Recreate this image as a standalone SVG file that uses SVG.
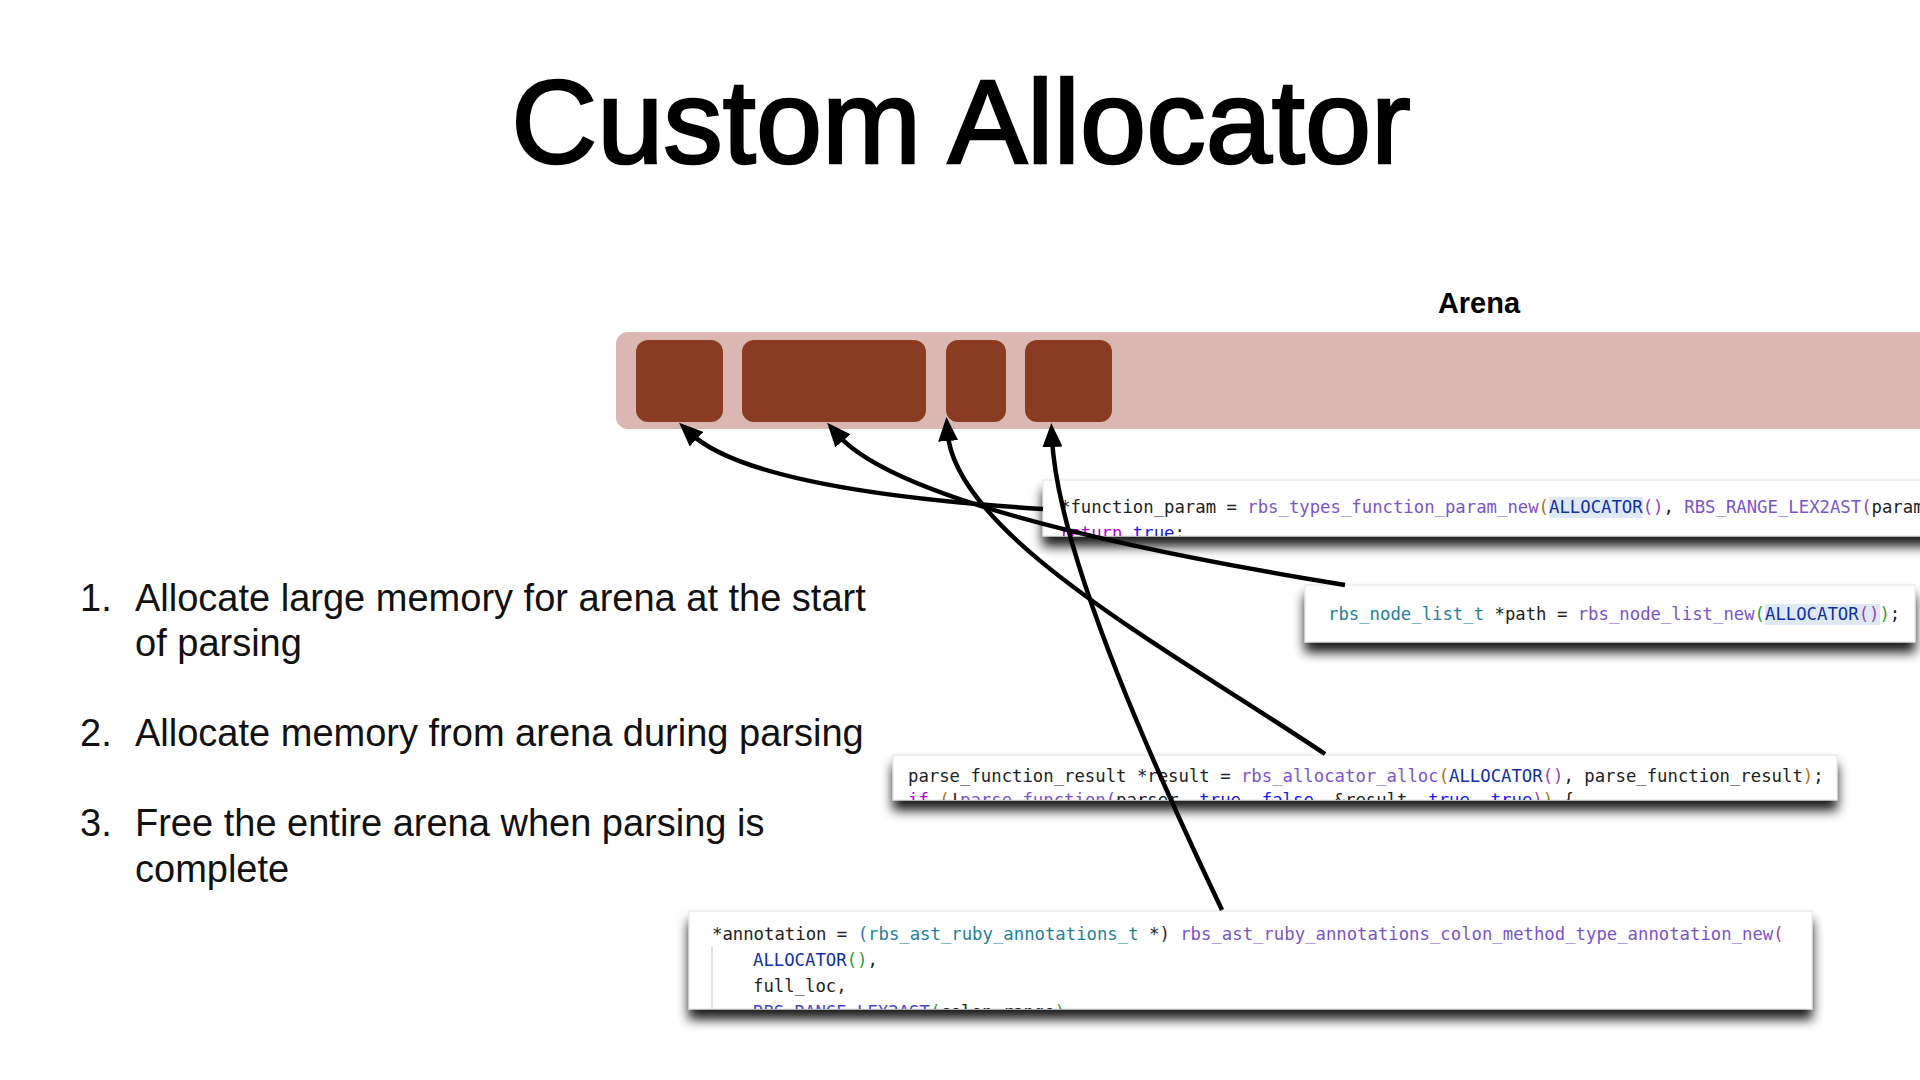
<svg xmlns="http://www.w3.org/2000/svg" width="1920" height="1080" viewBox="0 0 1920 1080">
<style>
.title{font-family:"Liberation Sans",Arial,sans-serif;font-size:119px;fill:#000;stroke:#000;stroke-width:2.6px}
.lbl{font-family:"Liberation Sans",Arial,sans-serif;font-size:29px;font-weight:bold;fill:#000}
.body{font-family:"Liberation Sans",Arial,sans-serif;font-size:38px;fill:#111}
.code{font-family:"DejaVu Sans Mono","Liberation Mono",monospace;font-size:17.3px;fill:#222}
.box{fill:#fff;stroke:#e2e2e2;stroke-width:1}
.fn{fill:#7a55c8}
.ty{fill:#267f99}
.al{fill:#0f2fa8}
.kw{fill:#b000d6}
.bl{fill:#1a1af0}
.b1{fill:#a8721a}
.b2{fill:#9a3fb0}
.b3{fill:#2f9a3a}
.hl{fill:#dfe9f6}
.blk{fill:#8a3c23}
.arr{fill:none;stroke:#000;stroke-width:4.5}
</style>
<defs>
<marker id="ah" viewBox="0 0 24 20" refX="9" refY="10" markerWidth="24" markerHeight="20" markerUnits="userSpaceOnUse" orient="auto">
<path d="M0,0 L24,10 L0,20 z" fill="#000"/>
</marker>
<filter id="sh" x="-5%" y="-30%" width="110%" height="190%">
<feGaussianBlur in="SourceAlpha" stdDeviation="6"/>
<feOffset dx="0" dy="10" result="b"/>
<feComponentTransfer><feFuncA type="linear" slope="0.9"/></feComponentTransfer>
<feMerge><feMergeNode/><feMergeNode in="SourceGraphic"/></feMerge>
</filter>
<clipPath id="c1"><rect x="1043" y="480" width="877" height="56"/></clipPath>
<clipPath id="c2"><rect x="1305" y="585" width="610" height="57"/></clipPath>
<clipPath id="c3"><rect x="893" y="755" width="944" height="45"/></clipPath>
<clipPath id="c4"><rect x="689" y="911" width="1123" height="98"/></clipPath>
</defs>

<rect width="1920" height="1080" fill="#fff"/>

<text class="title" x="961" y="163" text-anchor="middle">Custom Allocator</text>

<g id="list">
<text class="body" x="80" y="611">1.</text>
<text class="body" x="135" y="611">Allocate large memory for arena at the start</text>
<text class="body" x="135" y="656">of parsing</text>
<text class="body" x="80" y="746">2.</text>
<text class="body" x="135" y="746">Allocate memory from arena during parsing</text>
<text class="body" x="80" y="836">3.</text>
<text class="body" x="135" y="836">Free the entire arena when parsing is</text>
<text class="body" x="135" y="882">complete</text>
</g>

<g id="arena">
<text class="lbl" x="1479" y="313" text-anchor="middle">Arena</text>
<rect x="616" y="332" width="1320" height="97" rx="12" fill="#dbb7b2"/>
<rect class="blk" x="636" y="340" width="87" height="82" rx="12"/>
<rect class="blk" x="742" y="340" width="184" height="82" rx="12"/>
<rect class="blk" x="946" y="340" width="60" height="82" rx="12"/>
<rect class="blk" x="1025" y="340" width="87" height="82" rx="12"/>
</g>

<g id="code1">
<rect class="box" x="1043" y="480" width="890" height="56" filter="url(#sh)"/>
<g clip-path="url(#c1)">
<rect class="hl" x="1549" y="497" width="94" height="21"/>
<text class="code" x="1060" y="513" xml:space="preserve">*function_param = <tspan class="fn">rbs_types_function_param_new</tspan><tspan class="b1">(</tspan><tspan class="al">ALLOCATOR</tspan><tspan class="b2">()</tspan>, <tspan class="fn">RBS_RANGE_LEX2AST</tspan><tspan class="b2">(</tspan>param</text>
<text class="code" x="1060" y="539"><tspan class="kw">return</tspan> <tspan class="bl">true</tspan>;</text>
</g>
</g>

<g id="code2">
<rect class="box" x="1305" y="585" width="610" height="57" filter="url(#sh)"/>
<g clip-path="url(#c2)">
<rect class="hl" x="1765" y="604" width="115" height="21"/>
<text class="code" x="1328" y="620" xml:space="preserve"><tspan class="ty">rbs_node_list_t</tspan> *path = <tspan class="fn">rbs_node_list_new</tspan><tspan class="b3">(</tspan><tspan class="al">ALLOCATOR</tspan><tspan class="b2">()</tspan><tspan class="b3">)</tspan>;</text>
</g>
</g>

<g id="code3">
<rect class="box" x="893" y="755" width="944" height="45" filter="url(#sh)"/>
<g clip-path="url(#c3)">
<text class="code" x="908" y="782" xml:space="preserve">parse_function_result *result = <tspan class="fn">rbs_allocator_alloc</tspan><tspan class="b1">(</tspan><tspan class="al">ALLOCATOR</tspan><tspan class="b2">()</tspan>, parse_function_result<tspan class="b1">)</tspan>;</text>
<text class="code" x="908" y="806" xml:space="preserve"><tspan class="kw">if</tspan> <tspan class="b1">(</tspan>!<tspan class="fn">parse_function</tspan><tspan class="b2">(</tspan>parser, <tspan class="bl">true</tspan>, <tspan class="bl">false</tspan>, &amp;result, <tspan class="bl">true</tspan>, <tspan class="bl">true</tspan><tspan class="b2">)</tspan><tspan class="b1">)</tspan> {</text>
</g>
</g>

<g id="code4">
<rect class="box" x="689" y="911" width="1123" height="98" filter="url(#sh)"/>
<g clip-path="url(#c4)">
<line x1="712" y1="947" x2="712" y2="1009" stroke="#d4d4d4" stroke-width="1.5"/>
<text class="code" x="712" y="940" xml:space="preserve">*annotation = <tspan fill="#3173c5">(</tspan><tspan class="ty">rbs_ast_ruby_annotations_t</tspan> *) <tspan class="fn">rbs_ast_ruby_annotations_colon_method_type_annotation_new</tspan><tspan class="b2">(</tspan></text>
<text class="code" x="753" y="966"><tspan class="al">ALLOCATOR</tspan><tspan class="b3">()</tspan>,</text>
<text class="code" x="753" y="992">full_loc,</text>
<text class="code" x="753" y="1018"><tspan fill="#4a48c8">RBS_RANGE_LEX2AST</tspan><tspan class="b3">(</tspan>colon_range<tspan class="b3">)</tspan>,</text>
</g>
</g>

<g id="connectors">
<path class="arr" d="M1043,509 C900,500 740,480 690,433" marker-end="url(#ah)"/>
<path class="arr" d="M1345,585 C1100,545 890,495 837,434" marker-end="url(#ah)"/>
<path class="arr" d="M1325,754 C1170,650 955,535 947.5,432" marker-end="url(#ah)"/>
<path class="arr" d="M1222,910 C1165,790 1058,560 1052,438" marker-end="url(#ah)"/>
</g>
</svg>
